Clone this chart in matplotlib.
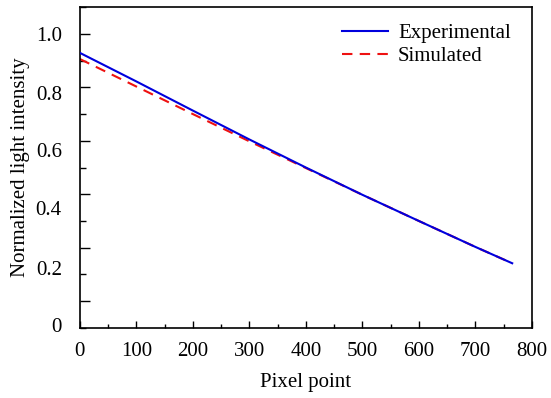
from matplotlib import pyplot as plt
from matplotlib.ticker import MultipleLocator
import numpy as np

# data
pixel = [0, 100, 200, 300, 400, 500, 600, 700, 765]
experimental = [0.929, 0.822, 0.713, 0.605, 0.500, 0.398, 0.300, 0.203, 0.142]
simulated = [0.906, 0.803, 0.700, 0.598, 0.498, 0.398, 0.300, 0.203, 0.142]

# y labels in the original sit a little below their ticks
ylabel_text = ["1.0", "0.8", "0.6", "0.4", "0.2", "0"]
ylabel_pos = [1.0, 0.78, 0.565, 0.35, 0.125, -0.09]

plt.rcParams['font.family'] = ['Liberation Serif', 'DejaVu Serif']
plt.rcParams['font.size'] = 15

fig = plt.figure(figsize=(5.51, 3.98), dpi=100)
ax = fig.add_axes([0.145, 0.176, 0.8205, 0.806])

ax.plot(pixel, simulated, color="#ee1111", linewidth=1.5, dashes=(5, 3.5),
        label="Simulated", zorder=2)
ax.plot(pixel, experimental, color="#0000dd", linewidth=1.5,
        label="Experimental", zorder=3)

ax.set_xlim(0, 800)
ax.set_ylim(-0.1, 1.1)
ax.xaxis.set_major_locator(MultipleLocator(100))
ax.xaxis.set_minor_locator(MultipleLocator(50))
ax.set_yticks(np.arange(0, 1.01, 0.2))
ax.yaxis.set_minor_locator(MultipleLocator(0.1))
ax.tick_params(axis="x", which="major", direction="in", length=5, width=1, pad=10)
ax.tick_params(axis="x", which="minor", direction="in", length=3, width=1)
ax.tick_params(axis="y", which="major", direction="in", length=7, width=1,
               labelleft=False)
ax.tick_params(axis="y", which="minor", direction="in", length=4, width=1)
for s in ax.spines.values():
    s.set_linewidth(1.2)

sec = ax.secondary_yaxis("left")
sec.set_yticks(ylabel_pos, ylabel_text)
sec.tick_params(length=0, pad=13)
sec.spines["left"].set_visible(False)

ax.set_xlabel("Pixel point", labelpad=9)
sec.set_ylabel("Normalized light intensity", labelpad=4)

handles, labels = ax.get_legend_handles_labels()
ax.legend(handles[::-1], labels[::-1], loc="upper right", frameon=False,
          handlelength=2.2, handletextpad=0.5, labelspacing=0.15,
          borderaxespad=0.4, bbox_to_anchor=(0.99, 1.0))

fig.savefig("out.png", dpi=100)
